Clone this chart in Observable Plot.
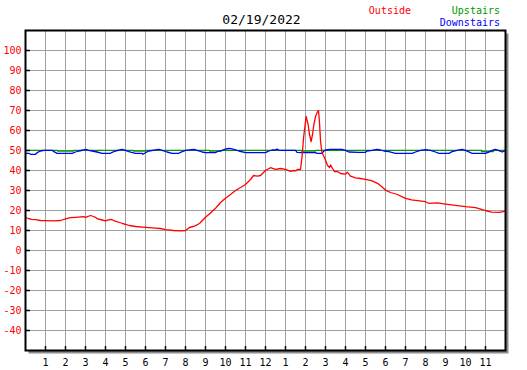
<!DOCTYPE html>
<html><head><meta charset="utf-8">
<script src="https://cdn.jsdelivr.net/npm/d3@7"></script>
<script src="https://cdn.jsdelivr.net/npm/@observablehq/plot@0.6"></script>
<style>
body{margin:0;background:#fff;}
#head{position:relative;width:527px;height:28px;font-family:"DejaVu Sans Mono",monospace;}
.t{position:absolute;white-space:nowrap;line-height:1;}
svg{display:block}
</style></head><body>
<div id="head"></div>
<div id="chart"></div>
<script>
const chartTitle = "02/19/2022";
const seriesNames = ["Outside", "Upstairs", "Downstairs"];
const seriesColors = ["#ff0000", "#009900", "#0000ff"];

const hourTicks = [1,2,3,4,5,6,7,8,9,10,11,12,13,14,15,16,17,18,19,20,21,22,23];
const hourLabels = ["1","2","3","4","5","6","7","8","9","10","11","12","1","2","3","4","5","6","7","8","9","10","11"];
const tempTicks = [-40,-30,-20,-10,0,10,20,30,40,50,60,70,80,90,100];

const outsideHours = [0,0.15,0.3,0.5,0.75,1,1.5,1.75,2,2.25,2.5,2.9,3,3.25,3.4,3.5,3.6,3.75,4,4.15,4.3,4.45,4.7,4.85,5,5.2,5.5,6,6.5,6.75,7,7.4,7.75,8,8.2,8.45,8.7,9,9.25,9.5,9.75,10,10.25,10.5,10.75,11,11.25,11.4,11.6,11.75,12,12.25,12.5,12.75,13,13.25,13.4,13.5,13.6,13.75,13.83,13.9,13.97,14.03,14.08,14.13,14.2,14.28,14.35,14.42,14.5,14.58,14.65,14.7,14.75,14.82,14.9,15,15.1,15.2,15.25,15.35,15.45,15.6,15.75,16,16.1,16.25,16.5,16.75,17,17.3,17.6,17.8,18,18.25,18.6,19,19.3,19.7,20,20.15,20.6,21,21.3,21.7,22,22.5,22.8,23,23.3,23.7,24];
const outsideTemps = [16.5,16,15.6,15.4,15,14.9,14.8,15,15.8,16.4,16.6,16.9,16.6,17.5,17,16.6,15.8,15.5,14.8,15.3,15.5,14.8,14,13.5,13.1,12.5,12,11.6,11.2,11,10.4,10,9.8,10,11.5,12.2,13.5,16.6,18.8,21.1,24,26.1,28,30,31.5,33,35.5,37.5,37.2,37.5,40,41.4,40.6,41,40.6,39.6,40,39.8,40.5,40.5,47,56,62,67,65,63,58,54.5,58,63,67,69,70,64,55,49,47.5,45.2,42.5,41.5,42.8,41,39.4,39.5,38.5,38.2,39.1,37.2,36.3,36,35.6,34.9,33.6,32,30.2,29,28,26.1,25.3,24.8,24.4,23.6,23.8,23.2,22.8,22.3,21.9,21.4,20.6,20,19.2,19.1,19.7];

const upstairsHours = [0,1.4,1.6,2.2,2.4,5.2,5.4,5.8,6,9,9.2,9.6,9.8,13.6,13.8,14.3,14.5,22.6,22.8,23.2,23.4,24];
const upstairsTemps = [50.1,50.1,49.75,49.75,50.1,50.1,49.75,49.75,50.1,50.1,49.75,49.75,50.1,50.1,49.75,49.75,50.1,50.1,49.5,49.5,50.1,50.1];

const downstairsHours = [0,0.17,0.25,0.5,0.58,0.75,0.92,1.33,1.42,1.58,2.33,2.5,2.67,2.9,3,3.17,3.33,3.58,3.83,4.25,4.33,4.5,4.83,5,5.17,5.5,5.83,5.87,6,6.17,6.67,6.83,7.08,7.33,7.67,7.75,8,8.42,8.58,8.83,9,9.5,9.58,9.83,10,10.2,10.42,10.67,11,12,12.17,12.33,12.5,12.58,12.67,13.5,13.58,13.83,14.5,14.58,14.83,14.92,15,15.25,15.83,16,16.17,16.67,17,17.08,17.33,17.58,17.75,17.92,18.17,18.5,19.33,19.5,19.75,20,20.25,20.5,20.67,21.17,21.33,21.58,21.83,22,22.25,22.33,23,23.13,23.33,23.5,23.67,23.83,24];
const downstairsTemps = [48.6,48.6,48.1,48.1,48.9,49.75,50.1,50.1,49.4,48.6,48.6,49.25,49.75,50.25,50.6,50.1,49.75,49.25,48.6,48.6,49.1,49.75,50.6,50.1,49.4,48.6,48.6,48.1,48.9,49.75,50.6,50.1,49.25,48.6,48.6,49.1,50.1,50.6,50.1,49.25,48.9,48.9,49.4,50.1,50.75,51.1,50.6,49.75,48.9,48.9,49.75,50.25,50.25,50.75,50.1,50.1,49.1,48.9,48.9,48.6,48.6,49.75,50.25,50.6,50.6,50.1,49.25,49.1,49.1,49.75,50.1,50.6,50.25,49.75,49.4,48.6,48.6,49.25,50.1,50.4,50.1,49.25,48.6,48.6,49.4,50.1,50.6,50.1,48.9,48.6,48.6,49.1,50.1,50.6,49.9,49.25,49.9];

const toRows = (hs, vs) => hs.map((h, i) => ({h, v: vs[i]}));
const outside = toRows(outsideHours, outsideTemps);
const upstairs = toRows(upstairsHours, upstairsTemps);
const downstairs = toRows(downstairsHours, downstairsTemps);

// header: title + legend
const head = document.getElementById("head");
function addText(txt, style) {
  const s = document.createElement("span");
  s.className = "t"; s.textContent = txt;
  Object.assign(s.style, style);
  head.appendChild(s);
}
addText(chartTitle, {left: "0px", width: "523px", textAlign: "center", top: "13px", fontSize: "13px"});
addText(seriesNames[0], {right: "116px", top: "6px", fontSize: "10px", color: seriesColors[0]});
addText(seriesNames[1], {right: "27px", top: "6px", fontSize: "10px", color: seriesColors[1]});
addText(seriesNames[2], {right: "27px", top: "18px", fontSize: "10px", color: seriesColors[2]});

const chart = Plot.plot({
  width: 527, height: 342,
  marginTop: 2, marginBottom: 20, marginLeft: 25, marginRight: 22,
  x: {domain: [0, 24]},
  y: {domain: [-50, 110]},
  style: {fontFamily: "'DejaVu Sans Mono', monospace", fontSize: "10px", background: "white", color: "black"},
  marks: [
    Plot.frame({dx: 3, dy: 3, fill: "#8c8c8c"}),
    Plot.frame({fill: "white"}),
    Plot.gridX(hourTicks, {stroke: "#a0a0a0", strokeOpacity: 1, strokeWidth: 1}),
    Plot.gridY(tempTicks, {stroke: "#a0a0a0", strokeOpacity: 1, strokeWidth: 1}),
    Plot.line(upstairs, {x: "h", y: "v", stroke: seriesColors[1], strokeWidth: 1.3, curve: "step-after"}),
    Plot.line(downstairs, {x: "h", y: "v", stroke: seriesColors[2], strokeWidth: 1.3}),
    Plot.line(outside, {x: "h", y: "v", stroke: seriesColors[0], strokeWidth: 1.3}),
    Plot.frame({stroke: "black", strokeWidth: 2}),
    Plot.axisX(hourTicks, {tickSize: -4, tickFormat: () => "", strokeWidth: 1.5, label: null}),
    Plot.axisX(hourTicks, {tickSize: 0, tickPadding: 8, tickFormat: d => hourLabels[hourTicks.indexOf(d)], label: null}),
    Plot.axisY(tempTicks, {tickSize: -5, tickFormat: () => "", strokeWidth: 1.5, label: null}),
    Plot.axisY(tempTicks, {tickSize: 0, tickPadding: 4, tickFormat: d => String(d), color: "red", label: null})
  ]
});
document.getElementById("chart").appendChild(chart);
</script>
</body></html>
